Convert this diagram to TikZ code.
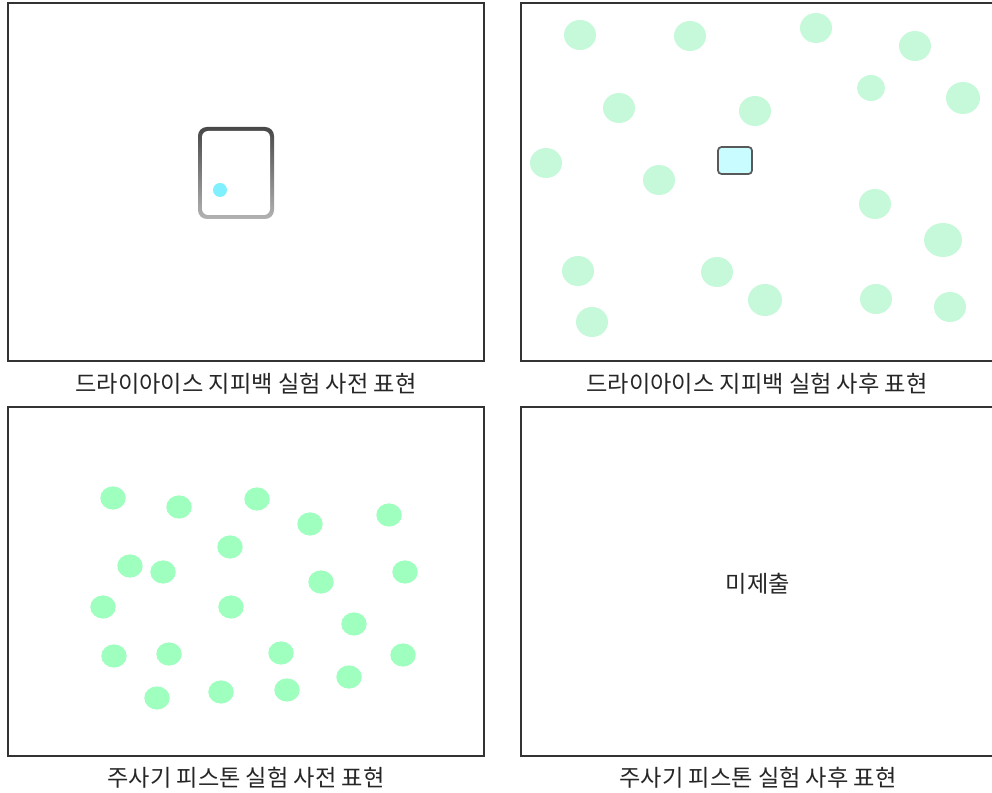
\documentclass[tikz,border=0pt]{standalone}
\usepackage{fontspec}
\setmainfont{Noto Sans CJK KR}
\usepackage{xcolor}
\usepackage{tikz}
\usetikzlibrary{positioning}

\definecolor{mintpale}{HTML}{C6F8DA}
\definecolor{mintbright}{HTML}{9EFFBE}
\definecolor{icecyan}{HTML}{80F0FF}
\definecolor{icebox}{HTML}{C8FCFF}

\begin{document}
\begin{tikzpicture}[
    x=0.02cm, y=-0.02cm,
    panel/.style={
        draw=black!80,
        line width=0.6pt
    },
    caption/.style={
        font=\fontsize{13.2}{15}\selectfont,
        text=black!85,
        inner sep=0pt
    },
    paledot/.style={fill=mintpale},
    brightdot/.style={fill=mintbright}
]
\useasboundingbox (0,0) rectangle (992,793);

% four panels
\draw[panel] (8,3) rectangle (484,361);
\draw[panel] (521,3) rectangle (996,361);
\draw[panel] (8,407) rectangle (484,756);
\draw[panel] (521,407) rectangle (996,756);

% dry ice bag, before
\shade[top color=black!72, bottom color=black!30, rounded corners=5pt]
    (198,127) rectangle (274,219);
\fill[white, rounded corners=3.5pt] (202,131) rectangle (270,215);
\fill[icecyan] (220,190) circle (7);

% dry ice bag, after
\foreach \px/\py/\rx/\ry in {
    580/35/16/15, 690/36/16/15, 816/28/16/15, 915/46/16/15,
    871/88/14/13, 963/98/17/16, 619/108/16/15, 755/111/16/15,
    546/163/16/15, 659/180/16/15, 875/204/16/15, 943/240/19/17,
    578/271/16/15, 717/272/16/15, 765/300/17/16, 876/299/16/15,
    950/307/16/15, 592/322/16/15}
    \fill[paledot] (\px,\py) ellipse [x radius=\rx, y radius=\ry];
\draw[draw=black!65, fill=icebox, line width=1pt, rounded corners=2pt]
    (718,147) rectangle (752,174);

% syringe piston, before
\foreach \px/\py in {
    113/498, 179/507, 257/499, 310/524, 389/515, 230/547,
    130/566, 163/572, 321/582, 405/572, 103/607, 231/607,
    354/624, 114/656, 169/654, 281/653, 403/655, 349/677,
    157/698, 221/692, 287/690}
    \fill[brightdot] (\px,\py) ellipse [x radius=12.7, y radius=11.6];

% syringe piston, after
\node[caption] (missing) at (758,584) {미제출};

% captions
\node[caption] (capdrybefore) at (246,384) {드라이아이스 지피백 실험 사전 표현};
\node[caption] (capdryafter) at (757,384) {드라이아이스 지피백 실험 사후 표현};
\node[caption] (capsyrbefore) at (246,778) {주사기 피스톤 실험 사전 표현};
\node[caption] (capsyrafter) at (758,778) {주사기 피스톤 실험 사후 표현};

\end{tikzpicture}
\end{document}
